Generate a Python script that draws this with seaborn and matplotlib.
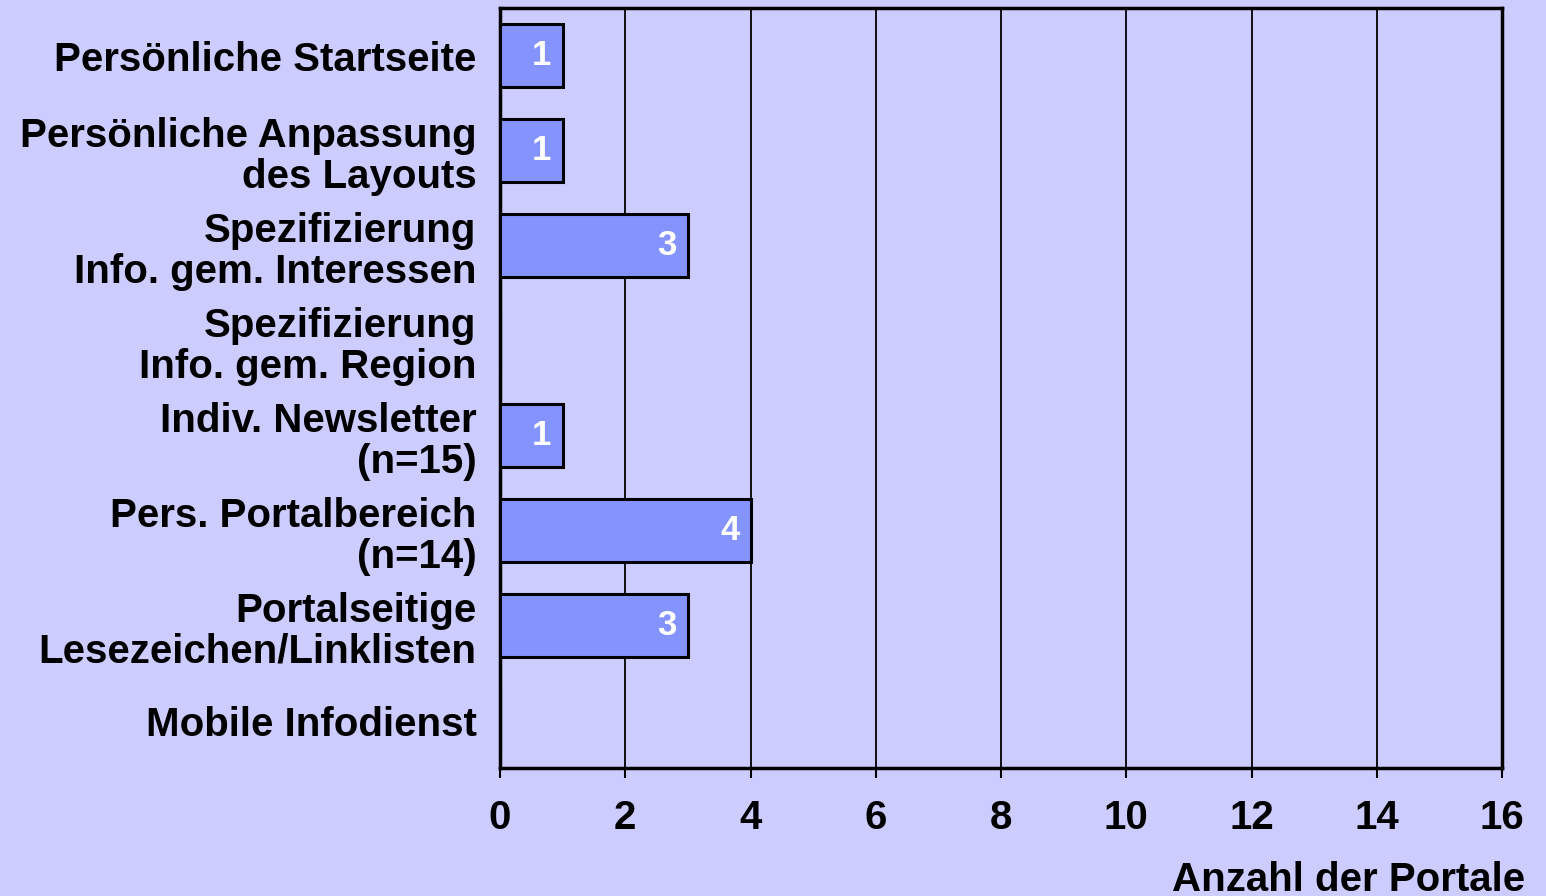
import numpy as np
import pandas as pd
import matplotlib
matplotlib.use("Agg")
import matplotlib.pyplot as plt
import seaborn as sns

# Data
categories = [
    "Persönliche Startseite",
    "Persönliche Anpassung\ndes Layouts",
    "Spezifizierung\nInfo. gem. Interessen",
    "Spezifizierung\nInfo. gem. Region",
    "Indiv. Newsletter\n(n=15)",
    "Pers. Portalbereich\n(n=14)",
    "Portalseitige\nLesezeichen/Linklisten",
    "Mobile Infodienst",
]
counts = [1, 1, 3, 0, 1, 4, 3, 0]
x_ticks = [0, 2, 4, 6, 8, 10, 12, 14, 16]

df = pd.DataFrame({"feature": categories, "count": counts})

bg = "#CCCCFF"
bar_color = "#8593FF"

sns.set_style("white")
plt.rcParams["font.family"] = ["Liberation Sans", "DejaVu Sans"]
plt.rcParams["font.weight"] = "bold"
plt.rcParams["text.color"] = "black"
plt.rcParams["xtick.color"] = "black"
plt.rcParams["ytick.color"] = "black"

fig = plt.figure(figsize=(15.46, 8.96), dpi=100, facecolor=bg)
ax = fig.add_axes([500 / 1546, 1 - 768 / 896, 1002 / 1546, 760 / 896])
ax.set_facecolor(bg)

sns.barplot(data=df, y="feature", x="count", orient="h", color=bar_color,
            saturation=1, width=0.66, edgecolor="black", linewidth=2.2, ax=ax, zorder=3)

ax.set_xlim(0, 16)
ax.set_ylim(len(categories) - 0.5, -0.5)
ax.set_xticks(x_ticks)
ax.set_xticklabels([str(t) for t in x_ticks], fontsize=29, fontweight="bold")
ax.xaxis.grid(True, color="black", linewidth=1.3, zorder=0)
ax.set_axisbelow(True)

# category labels at band centers, ticks at band boundaries
ax.set_yticks(np.arange(len(categories)))
ax.set_yticklabels(categories, fontsize=29, fontweight="bold", linespacing=1.1)
ax.set_yticks(np.arange(len(categories) + 1) - 0.5, minor=True)
ax.tick_params(axis="y", which="major", length=0, pad=17)
ax.tick_params(axis="y", which="minor", length=9, width=1.5, color="black", direction="out")
ax.tick_params(axis="x", which="major", length=7, width=1.5, color="black",
               direction="out", pad=15, bottom=True)
ax.set_xlabel("")
ax.set_ylabel("")

for s in ax.spines.values():
    s.set_visible(True)
    s.set_color("black")
    s.set_linewidth(2.5)

# value labels inside bar ends
for i, v in enumerate(counts):
    if v > 0:
        ax.annotate(str(v), xy=(v, i), xytext=(-8, 0), textcoords="offset points",
                    ha="right", va="center", color="white", fontsize=25,
                    fontweight="bold", zorder=5)

fig.text(1525 / 1546, 1 - 861 / 896, "Anzahl der Portale", ha="right", va="top",
         fontsize=29, fontweight="bold")

fig.savefig("out.png", dpi=100, facecolor=bg)
